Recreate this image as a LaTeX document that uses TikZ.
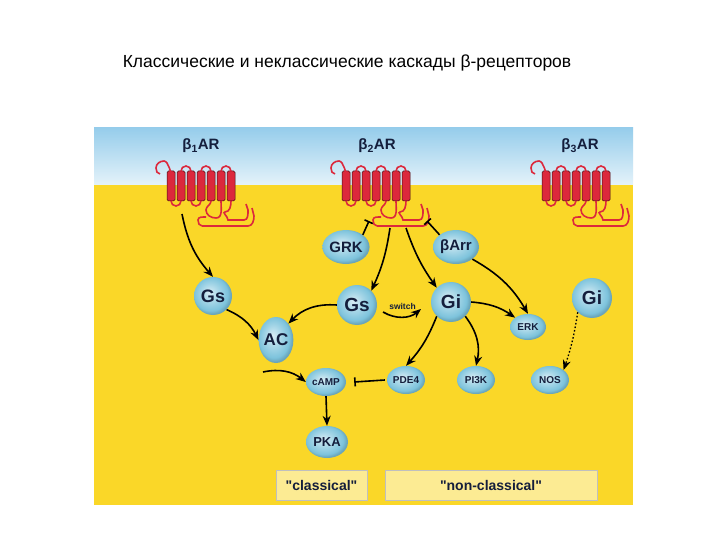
\documentclass[tikz,border=0pt]{standalone}
\usepackage{fontspec}
\setmainfont{Liberation Sans}[Ligatures=TeXOff]
\usetikzlibrary{arrows.meta,shadings,shapes.geometric}
\definecolor{rec}{RGB}{220,40,60}
\definecolor{ylw}{RGB}{250,215,40}
\definecolor{sky}{RGB}{150,205,235}
\definecolor{ballc}{RGB}{125,195,220}
\definecolor{navy}{RGB}{20,30,60}
\pgfdeclareradialshading{molsh}{\pgfpoint{-5bp}{5bp}}{color(0bp)=(white!70!ballc); color(12bp)=(ballc!70!white); color(22bp)=(ballc); color(26bp)=(ballc!85!black); color(50bp)=(ballc!70!black)}
\tikzset{
  mol/.style={ellipse, shading=molsh, inner sep=0pt, text=navy, font=\bfseries},
  arr/.style={-{Stealth[length=10pt,width=8pt]}, line width=1.6pt, black},
  inh/.style={-{Bar[width=9pt]}, line width=1.6pt},
  lbl/.style={font=\bfseries\fontsize{15}{17}\selectfont, text=navy},
  box/.style={draw=black!25, fill=ylw!50!white, line width=0.8pt, text=navy, font=\bfseries\fontsize{14}{16}\selectfont},
  helix/.style={fill=rec, draw=black!70!rec, line width=0.5pt, rounded corners=1.5pt},
  loop/.style={draw=rec, line width=1.6pt},
  receptor/.pic={
    \foreach \i in {0,...,6}{
      \fill[helix] (-33+\i*10,-15) rectangle ++(8,30);
    }
    \draw[loop] (-19,-15) arc (180:360:5);
    \draw[loop] (1,-15) arc (180:360:5);
    \draw[loop] (21,-15) arc (180:360:5);
    \draw[loop] (-29,-15) to[out=-90,in=0] (-36,-25) to[out=180,in=90] (-44,-18) to[out=-90,in=180] (-40,-12);
    \draw[loop] (-29,15) arc (180:0:5);
    \draw[loop] (-9,15) arc (180:0:5);
    \draw[loop] (11,15) to[out=-90,in=90] (6,24) to[out=-90,in=180] (16,32) to[out=0,in=-90] (21,15);
    \draw[loop] (31,15) to[out=-90,in=0] (25,26) to[out=180,in=90] (28,34) -- (44,34) to[out=0,in=-90] (48,24) -- (46,18);
    \draw[loop] (2,40) -- (48,40) to[out=0,in=-90] (54,30) -- (52,22);
    \draw[loop] (2,40) to[out=180,in=-90] (-2,34) to[out=90,in=180] (6,31);
  }
}
\begin{document}
\begin{tikzpicture}[x=1pt,y=-1pt]
\useasboundingbox (0,0) rectangle (720,540);
\fill[white] (0,0) rectangle (720,540);
\node[font=\fontsize{17.5}{20}\selectfont] (title) at (347,63) {Классические и неклассические каскады β-рецепторов};
\fill[ylw] (94,185) rectangle (633,505);
\shade[top color=sky, bottom color=sky!25!white] (94,128) rectangle (633,185);
\pic at (200,186) {receptor};
\pic at (375,186) {receptor};
\pic at (575,186) {receptor};
\node[lbl] (b1) at (201,146) {β\textsubscript{1}AR};
\node[lbl] (b2) at (377,146) {β\textsubscript{2}AR};
\node[lbl] (b3) at (580,146) {β\textsubscript{3}AR};
\coordinate (r1) at (182,214);
\coordinate (r2a) at (390,228);
\coordinate (r2b) at (406,228);
\coordinate (r2g) at (369,221);
\coordinate (r2r) at (427,221);
\node[mol, minimum width=38pt, minimum height=38pt, font=\bfseries\fontsize{18}{20}\selectfont] (gs1) at (213,296) {Gs};
\node[mol, minimum width=32pt, minimum height=46pt, font=\bfseries\fontsize{17}{20}\selectfont] (ac) at (276,340) {AC};
\node[mol, minimum width=40pt, minimum height=28pt, font=\bfseries\fontsize{10}{12}\selectfont] (camp) at (326,382) {cAMP};
\node[mol, minimum width=42pt, minimum height=32pt, font=\bfseries\fontsize{13}{15}\selectfont] (pka) at (327,442) {PKA};
\node[mol, minimum width=46pt, minimum height=34pt, font=\bfseries\fontsize{15}{17}\selectfont] (grk) at (346,247) {GRK};
\node[mol, minimum width=46pt, minimum height=34pt, font=\bfseries\fontsize{15}{17}\selectfont] (barr) at (456,247) {βArr};
\node[mol, minimum width=40pt, minimum height=40pt, font=\bfseries\fontsize{19}{21}\selectfont] (gs2) at (357,305) {Gs};
\node[mol, minimum width=40pt, minimum height=40pt, font=\bfseries\fontsize{19}{21}\selectfont] (gi2) at (451,302) {Gi};
\node[mol, minimum width=36pt, minimum height=26pt, font=\bfseries\fontsize{10}{12}\selectfont] (erk) at (528,327) {ERK};
\node[mol, minimum width=38pt, minimum height=28pt, font=\bfseries\fontsize{10}{12}\selectfont] (pde) at (406,380) {PDE4};
\node[mol, minimum width=38pt, minimum height=28pt, font=\bfseries\fontsize{10}{12}\selectfont] (pi3k) at (476,380) {PI3K};
\node[mol, minimum width=38pt, minimum height=28pt, font=\bfseries\fontsize{10}{12}\selectfont] (nos) at (550,380) {NOS};
\node[mol, minimum width=40pt, minimum height=40pt, font=\bfseries\fontsize{19}{21}\selectfont] (gi3) at (592,298) {Gi};
\node[box, minimum width=91pt, minimum height=30pt] (cl) at (321.5,485) {"classical"};
\node[box, minimum width=212pt, minimum height=30pt] (ncl) at (491,485) {"non-classical"};
\draw[arr] (r1) to[bend right=15] (gs1.north);
\draw[inh] (grk.north east) -- (r2g);
\draw[inh] (barr.north west) -- (r2r);
\draw[arr] (r2a) to[bend left=8] (gs2.north east);
\draw[arr] (r2b) to[bend right=8] (gi2.north west);
\draw[arr] (barr.south east) to[bend left=15] (erk.north);
\draw[arr] (gi2.east) to[bend left=15] (erk.north west);
\draw[arr] (gs2.west) to[bend right=25] (ac.north east);
\draw[arr] (gs1.south east) to[bend left=20] (ac.west);
\coordinate (acin) at (263,372);
\draw[arr] (acin) to[bend left=25] (camp.west);
\coordinate (swa) at (383,312);
\coordinate (swb) at (421,309);
\draw[arr] (swa) to[bend right=35] node[above=3pt, text=navy, font=\bfseries\fontsize{8.5}{10}\selectfont] {switch} (swb);
\draw[arr] (gi2.south west) to[bend left=10] (pde.north);
\draw[arr] (gi2.south east) to[bend left=25] (pi3k.north);
\draw[inh] ([xshift=-2pt]pde.west) -- ([xshift=8pt]camp.east);
\draw[arr] (camp.south) -- (pka.north);
\draw[arr, dotted, line width=1.3pt] (gi3.south west) to[bend left=5] (nos.north east);
\end{tikzpicture}
\end{document}
